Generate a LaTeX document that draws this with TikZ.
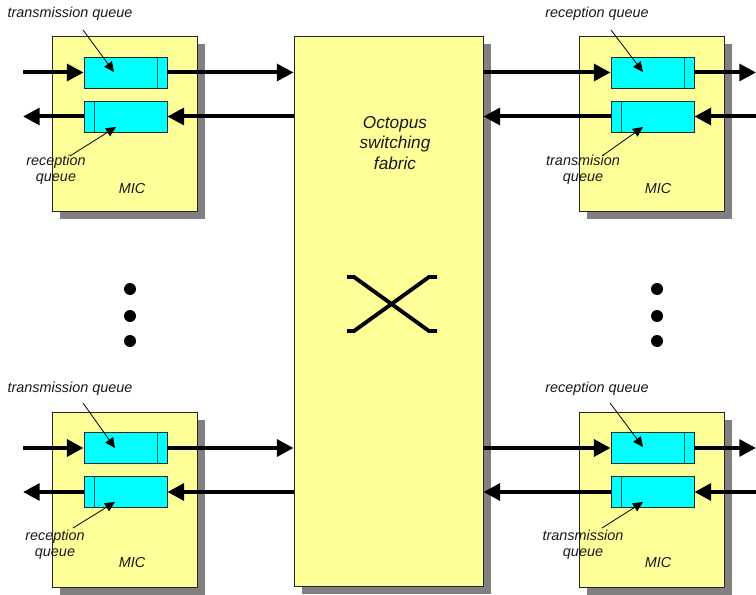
\documentclass[tikz,border=0pt]{standalone}
\usepackage{fontspec}
\setmainfont{Liberation Sans}
\usetikzlibrary{arrows.meta,shadows}
\definecolor{micyellow}{HTML}{FFFF99}
\definecolor{qcyan}{HTML}{00FFFF}
\definecolor{shadowgray}{HTML}{808080}
\definecolor{divteal}{HTML}{005F5F}
\begin{document}
\begin{tikzpicture}[x=0.75pt,y=-0.75pt,
  boxshadow/.style={drop shadow={shadow xshift=6pt,shadow yshift=-6pt,fill=shadowgray,opacity=1}},
  mic/.style={draw=black!85,line width=0.6pt,fill=micyellow,minimum width=108.75pt,minimum height=131.25pt,inner sep=0pt,boxshadow},
  fabricbox/.style={draw=black!85,line width=0.6pt,fill=micyellow,minimum width=141.75pt,minimum height=412.5pt,inner sep=0pt,boxshadow},
  queue/.style={draw=black!85,line width=0.6pt,fill=qcyan,minimum width=62.25pt,minimum height=23.25pt,inner sep=0pt},
  divider/.style={draw=divteal,line width=0.8pt},
  flow/.style={line width=3pt,-{Triangle[length=12.5pt,width=12.5pt]}},
  note/.style={line width=0.6pt,-{Triangle[length=7.5pt,width=7pt]}},
  lbl/.style={font=\fontsize{10.8}{12}\selectfont\itshape,align=center,inner sep=0pt,text=black!90},
  biglbl/.style={font=\fontsize{12.9}{15.4}\selectfont\itshape,align=center,inner sep=0pt,text=black!90},
  dotnode/.style={circle,fill=black,minimum size=9pt,inner sep=0pt}
]
\useasboundingbox (0,0) rectangle (756,595);

% boxes
\node[fabricbox] (fab) at (388.5,311) {};
\node[mic] (mtl) at (124.5,123.5) {};
\node[mic] (mbl) at (124.5,499.5) {};
\node[mic] (mtr) at (651.5,123.5) {};
\node[mic] (mbr) at (651.5,499.5) {};

\node[biglbl] (fabtxt) at (395,143) {Octopus\\switching\\fabric};

% queues
\node[queue] (tlt) at (125.5,72.5) {};
\node[queue] (tlr) at (125.5,116.5) {};
\node[queue] (blt) at (125.5,448) {};
\node[queue] (blr) at (125.5,492) {};
\node[queue] (trr) at (652.5,72.5) {};
\node[queue] (trt) at (652.5,116.5) {};
\node[queue] (brr) at (652.5,448) {};
\node[queue] (brt) at (652.5,492) {};

% dividers
\foreach \q in {tlt,blt,trr,brr}{
  \draw[divider] ([xshift=-7.5pt]\q.north east) -- ([xshift=-7.5pt]\q.south east);
}
\foreach \q in {tlr,blr,trt,brt}{
  \draw[divider] ([xshift=8.25pt]\q.north west) -- ([xshift=8.25pt]\q.south west);
}

% free ends
\coordinate (ltl1) at (23,72.5);
\coordinate (ltl2) at (23,116.5);
\coordinate (lbl1) at (23,448);
\coordinate (lbl2) at (23,492);
\coordinate (rtr1) at (756,72.5);
\coordinate (rtr2) at (756,116.5);
\coordinate (rbr1) at (756,448);
\coordinate (rbr2) at (756,492);

% flows left
\draw[flow] (ltl1) -- (tlt.west);
\draw[flow] (tlt.east) -- (fab.west |- tlt.east);
\draw[flow] (fab.west |- tlr.east) -- (tlr.east);
\draw[flow] (tlr.west) -- (ltl2);
\draw[flow] (lbl1) -- (blt.west);
\draw[flow] (blt.east) -- (fab.west |- blt.east);
\draw[flow] (fab.west |- blr.east) -- (blr.east);
\draw[flow] (blr.west) -- (lbl2);
% flows right
\draw[flow] (fab.east |- trr.west) -- (trr.west);
\draw[flow] (trr.east) -- (rtr1);
\draw[flow] (rtr2) -- (trt.east);
\draw[flow] (trt.west) -- (fab.east |- trt.west);
\draw[flow] (fab.east |- brr.west) -- (brr.west);
\draw[flow] (brr.east) -- (rbr1);
\draw[flow] (rbr2) -- (brt.east);
\draw[flow] (brt.west) -- (fab.east |- brt.west);

% cross
\draw[line width=2.9pt] (347,277) -- (354,277) -- (429,331) -- (437,331);
\draw[line width=2.9pt] (347,331) -- (354,331) -- (429,277) -- (437,277);

% dots
\node[dotnode] (dl1) at (130,289) {};
\node[dotnode] (dl2) at (130,316) {};
\node[dotnode] (dl3) at (130,341) {};
\node[dotnode] (dr1) at (657,289) {};
\node[dotnode] (dr2) at (657,316) {};
\node[dotnode] (dr3) at (657,341) {};

% labels top-left
\node[lbl] (t1) at (70,14) {transmission queue};
\coordinate (t1s) at (83,30);
\coordinate (t1e) at (114,72);
\draw[note] (t1s) -- (t1e);
\node[lbl] (r1) at (56,170) {reception\\queue};
\coordinate (r1s) at (70,156);
\coordinate (r1e) at (116,127);
\draw[note] (r1s) -- (r1e);
\node[lbl] (mic1) at (132,189) {MIC};

% labels top-right
\node[lbl] (r2) at (597,14) {reception queue};
\coordinate (r2s) at (611,30);
\coordinate (r2e) at (643,72);
\draw[note] (r2s) -- (r2e);
\node[lbl] (t2) at (583,170) {transmision\\queue};
\coordinate (t2s) at (602,156);
\coordinate (t2e) at (643,127);
\draw[note] (t2s) -- (t2e);
\node[lbl] (mic2) at (658,189) {MIC};

% labels bottom-left
\node[lbl] (t3) at (70,389) {transmission queue};
\coordinate (t3s) at (83,403);
\coordinate (t3e) at (115,448);
\draw[note] (t3s) -- (t3e);
\node[lbl] (r3) at (55,544.5) {reception\\queue};
\coordinate (r3s) at (73,528);
\coordinate (r3e) at (115,502);
\draw[note] (r3s) -- (r3e);
\node[lbl] (mic3) at (132,563) {MIC};

% labels bottom-right
\node[lbl] (r4) at (597,389) {reception queue};
\coordinate (r4s) at (610,403);
\coordinate (r4e) at (643,447);
\draw[note] (r4s) -- (r4e);
\node[lbl] (t4) at (583,544.5) {transmission\\queue};
\coordinate (t4s) at (602,528);
\coordinate (t4e) at (643,502);
\draw[note] (t4s) -- (t4e);
\node[lbl] (mic4) at (658,563) {MIC};
\end{tikzpicture}
\end{document}
